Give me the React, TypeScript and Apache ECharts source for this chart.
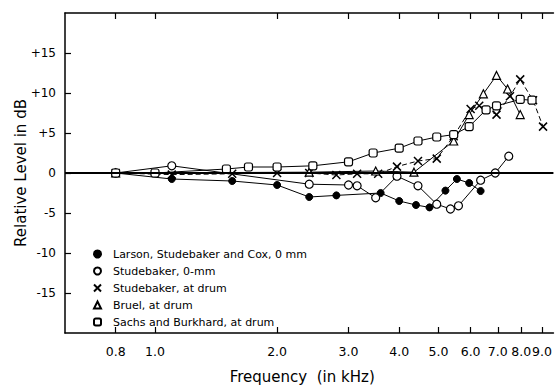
import React, { useEffect, useRef } from "react";
import * as echarts from "echarts";

// Tick labels of the frequency axis (kHz)
const tickFreqs = [0.8, 1.0, 2.0, 3.0, 4.0, 5.0, 6.0, 7.0, 8.0, 9.0];
const tickLabels = ["0.8", "1.0", "2.0", "3.0", "4.0", "5.0", "6.0", "7.0", "8.0", "9.0"];
const yTicks = [-15, -10, -5, 0, 5, 10, 15];

// Larson, Studebaker and Cox, 0 mm (filled circles)
const larsonFreq = [0.8, 1.1, 1.55, 2.0, 2.4, 2.8, 3.6, 4.0, 4.4, 4.75, 5.2, 5.55, 5.95, 6.35];
const larsonDb = [0, -0.75, -1.0, -1.5, -3.0, -2.8, -2.5, -3.5, -4.0, -4.3, -2.2, -0.75, -1.25, -2.25];

// Studebaker, 0-mm (open circles)
const stud0Freq = [0.8, 1.1, 2.4, 3.0, 3.15, 3.5, 3.95, 4.45, 4.95, 5.35, 5.6, 6.35, 6.9, 7.45];
const stud0Db = [0, 0.9, -1.4, -1.5, -1.6, -3.1, -0.4, -1.6, -3.9, -4.5, -4.1, -0.9, 0, 2.1];

// Studebaker, at drum (X, dashed)
const drumFreq = [0.8, 1.1, 1.55, 2.0, 2.4, 2.8, 3.15, 3.55, 3.95, 4.45, 4.95, 5.45, 6.0, 6.3, 6.95, 7.5, 7.95, 8.55, 9.05];
const drumDb = [0, -0.2, -0.1, 0, 0, -0.25, -0.1, -0.1, 0.8, 1.5, 1.8, 4.6, 8.0, 8.4, 7.3, 9.6, 11.7, 9.1, 5.8];

// Bruel, at drum (triangles)
const bruelFreq = [0.8, 2.4, 3.5, 4.35, 5.45, 5.95, 6.45, 6.95, 7.4, 7.95];
const bruelDb = [0, 0.1, 0.25, 0.1, 4.0, 7.3, 9.9, 12.2, 10.5, 7.3];

// Sachs and Burkhard, at drum (squares)
const sachsFreq = [0.8, 1.0, 1.5, 1.7, 2.0, 2.45, 3.0, 3.45, 4.0, 4.45, 4.95, 5.45, 5.95, 6.55, 6.95, 7.95, 8.5];
const sachsDb = [0, 0, 0.5, 0.75, 0.75, 0.9, 1.4, 2.5, 3.1, 4.0, 4.5, 4.8, 5.8, 7.9, 8.4, 9.2, 9.1];

const names = [
  "Larson, Studebaker and Cox, 0 mm",
  "Studebaker, 0-mm",
  "Studebaker, at drum",
  "Bruel, at drum",
  "Sachs and Burkhard, at drum",
];

const X_PATH = "path://M0,0L10,10M10,0L0,10";
const FONT = "DejaVu Sans";

const toPts = (f: number[], d: number[]) => f.map((v, i) => [Math.log10(v), d[i]]);

export default function App() {
  const ref = useRef<HTMLDivElement>(null);
  useEffect(() => {
    if (!ref.current) return;
    const chart = echarts.init(ref.current, undefined, { renderer: "svg" });
    const tickLogs = tickFreqs.map((f) => Math.log10(f));
    const xLabel = (v: number) => {
      const i = tickLogs.findIndex((t) => Math.abs(t - v) < 1e-6);
      return i >= 0 ? tickLabels[i] : "";
    };
    const lineBase = { color: "#000", width: 1 };
    const common = (name: string, f: number[], d: number[]) => ({
      type: "line",
      name,
      data: toPts(f, d),
      symbolSize: 8,
      lineStyle: { ...lineBase },
      z: 3,
    });
    chart.setOption({
      animation: false,
      backgroundColor: "#fff",
      grid: { left: 65, right: 0, top: 13, bottom: 55 },
      legend: {
        orient: "vertical",
        left: 88,
        top: 243,
        itemWidth: 7,
        itemHeight: 7,
        itemGap: 5,
        textStyle: { fontFamily: FONT, fontSize: 11, color: "#000", lineHeight: 12, padding: [0, 0, 0, 7] },
        data: [
          { name: names[0], icon: "circle" },
          { name: names[1], icon: "circle" },
          { name: names[2], icon: X_PATH },
          { name: names[3], icon: "triangle" },
          { name: names[4], icon: "roundRect" },
        ],
      },
      xAxis: [
        {
          type: "value",
          min: Math.log10(0.6),
          max: Math.log10(9.6),
          name: "Frequency  (in kHz)",
          nameLocation: "middle",
          nameGap: 36,
          nameMoveOverlap: false,
          nameTextStyle: { fontFamily: FONT, fontSize: 15, color: "#000", padding: [0, 14, 0, 0] },
          axisLine: { show: true, onZero: false, lineStyle: { color: "#000", width: 1.5 } },
          axisTick: { show: true, inside: true, length: 6, customValues: tickLogs, lineStyle: { color: "#000", width: 1.2 } },
          axisLabel: { customValues: tickLogs, formatter: xLabel, fontFamily: FONT, fontSize: 12.5, color: "#000", margin: 12 },
          splitLine: { show: false },
        },
        {
          type: "value",
          position: "top",
          min: Math.log10(0.6),
          max: Math.log10(9.6),
          axisLine: { show: true, onZero: false, lineStyle: { color: "#000", width: 1.5 } },
          axisTick: { show: true, inside: true, length: 6, customValues: tickLogs, lineStyle: { color: "#000", width: 1.2 } },
          axisLabel: { show: false },
          splitLine: { show: false },
        },
      ],
      yAxis: {
        type: "value",
        min: -20,
        max: 20,
        interval: 5,
        name: "Relative Level in dB",
        nameLocation: "middle",
        nameGap: 37,
        nameMoveOverlap: false,
        nameTextStyle: { fontFamily: FONT, fontSize: 15, color: "#000" },
        axisLine: { show: true, onZero: false, lineStyle: { color: "#000", width: 1.5 } },
        axisTick: { show: true, inside: true, length: 6, customValues: yTicks, lineStyle: { color: "#000", width: 1.2 } },
        axisLabel: {
          customValues: yTicks,
          formatter: (v: number) => (v > 0 ? "+" + v : String(v)),
          fontFamily: FONT,
          fontSize: 12,
          color: "#000",
          margin: 9,
        },
        splitLine: { show: false },
      },
      series: [
        {
          ...common(names[0], larsonFreq, larsonDb),
          symbol: "circle",
          symbolSize: 7,
          itemStyle: { color: "#000", borderColor: "#000", borderWidth: 1 },
          markLine: {
            silent: true,
            symbol: "none",
            label: { show: false },
            lineStyle: { color: "#000", width: 2, type: "solid" },
            data: [{ yAxis: 0 }],
          },
        },
        {
          ...common(names[1], stud0Freq, stud0Db),
          symbol: "circle",
          itemStyle: { color: "#fff", borderColor: "#000", borderWidth: 1.2 },
        },
        {
          ...common(names[2], drumFreq, drumDb),
          symbol: X_PATH,
          symbolSize: 8,
          lineStyle: { ...lineBase, type: [5, 3] },
          itemStyle: { color: "#000", borderColor: "#000", borderWidth: 1.5 },
        },
        {
          ...common(names[3], bruelFreq, bruelDb),
          symbol: "triangle",
          itemStyle: { color: "#fff", borderColor: "#000", borderWidth: 1.2 },
        },
        {
          ...common(names[4], sachsFreq, sachsDb),
          symbol: "roundRect",
          itemStyle: { color: "#fff", borderColor: "#000", borderWidth: 1.2 },
        },
      ],
    });
    return () => chart.dispose();
  }, []);
  return (
    <div
      ref={ref}
      style={{ position: "fixed", left: 0, top: 0, width: 555, height: 389, background: "#fff" }}
    />
  );
}
